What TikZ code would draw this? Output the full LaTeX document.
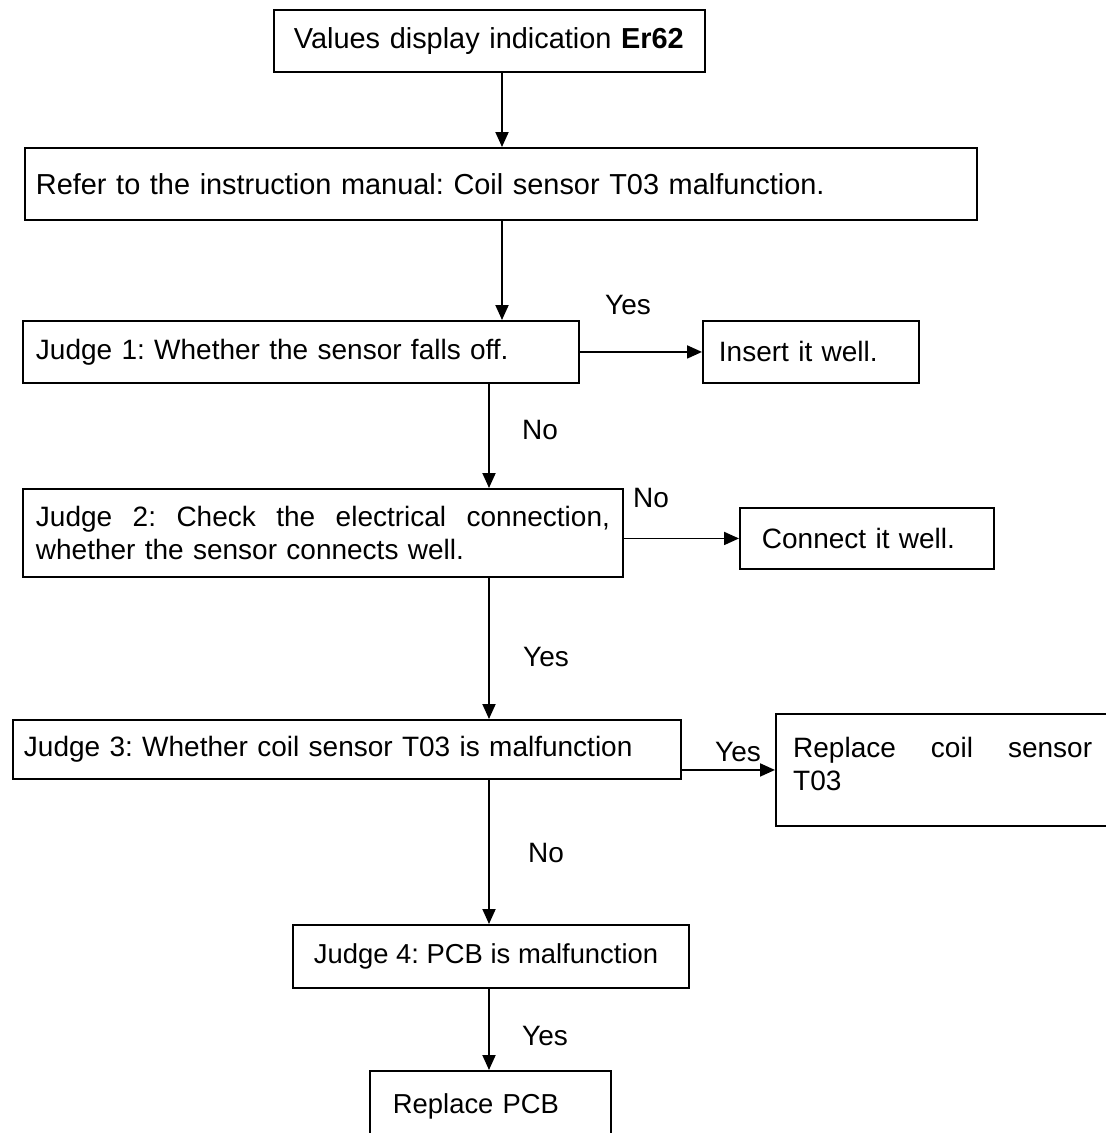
\documentclass[tikz,border=0pt]{standalone}
\usepackage{fontspec}
\setmainfont{Liberation Sans}
\usetikzlibrary{arrows.meta}
\newcommand\myfs{\fontsize{28}{33}\selectfont}
\newcommand\bigfs{\fontsize{28.9}{33}\selectfont}
\newcommand\smfs{\fontsize{27.4}{33}\selectfont}
\newcommand\jline[2]{\makebox[#1][s]{\spaceskip=0pt\xspaceskip=0pt #2}}
\frenchspacing
\hyphenpenalty=10000
\begin{document}
\begin{tikzpicture}[x=1pt,y=-1pt,
  box/.style={draw, line width=1.9pt, anchor=north west, align=left, inner ysep=0pt, font=\myfs},
  lbl/.style={inner sep=0pt, font=\myfs},
  arr/.style={line width=1.9pt, -{Triangle[length=15pt,width=13pt]}}]
\useasboundingbox (0,0) rectangle (1106,1133);
\clip (0,0) rectangle (1106,1133);
\fill[white] (0,0) rectangle (1106,1133);
% boxes
\node[box, font=\bigfs, text width=391pt, inner xsep=20pt, minimum height=62pt] (b1) at (273,9) {Values display indication \textbf{Er62}};
\node[box, font=\bigfs, text width=930pt, inner xsep=11pt, minimum height=72pt] (b2) at (24,147) {Refer to the instruction manual: Coil sensor T03 malfunction.};
\node[box, text width=530pt, inner xsep=13pt, minimum height=62pt] (j1) at (22,320) {Judge 1: Whether the sensor falls off.};
\node[box, text width=184pt, inner xsep=16pt, minimum height=62pt] (ins) at (702,320) {Insert it well.};
\node[box, text width=574pt, inner xsep=13pt, minimum height=88pt] (j2) at (22,488) {\jline{574pt}{Judge 2: Check the electrical connection,}\\whether the sensor connects well.};
\node[box, text width=210pt, inner xsep=22pt, minimum height=61pt] (con) at (739,507) {Connect it well.};
\node[box, text width=646pt, inner xsep=11pt, minimum height=59pt] (j3) at (12,719) {Judge 3: Whether coil sensor T03 is malfunction};
\node[box, minimum width=345pt, minimum height=112pt] (coil) at (775,713) {};
\node[anchor=north west, align=left, inner sep=0pt, font=\myfs] (coiltxt) at (793,737) {\jline{299pt}{Replace coil sensor}\\T03};
\node[box, font=\smfs, inner xsep=8pt, minimum height=63pt] (j4) at (292,924) {\makebox[380pt][l]{\hspace*{13pt}Judge 4: PCB is malfunction}};
\node[box, font=\smfs, text width=195pt, inner xsep=23pt, minimum height=70pt] (pcb) at (369,1070) {Replace PCB};
% helper coordinates
\coordinate (xa) at (502,0);
\coordinate (xb) at (489,0);
% connectors
\draw[arr] (b1.south -| xa) -- (b2.north -| xa);
\draw[arr] (b2.south -| xa) -- (j1.north -| xa);
\draw[arr] (j1.east) -- (ins.west);
\draw[arr] (j1.south -| xb) -- (j2.north -| xb);
\draw[arr] (con.west -| j2.east) -- (con.west);
\draw[arr] (j2.south -| xb) -- (j3.north -| xb);
\draw[arr] (coil.west -| j3.east) -- (coil.west);
\draw[arr] (j3.south -| xb) -- (j4.north -| xb);
\draw[arr] (j4.south -| xb) -- (pcb.north -| xb);
% labels
\node[lbl] (l1) at (628,305) {Yes};
\node[lbl] (l2) at (540,430) {No};
\node[lbl] (l3) at (651,498) {No};
\node[lbl] (l4) at (546,657) {Yes};
\node[lbl] (l5) at (738,752) {Yes};
\node[lbl] (l6) at (546,853) {No};
\node[lbl] (l7) at (545,1036) {Yes};
\end{tikzpicture}
\end{document}
